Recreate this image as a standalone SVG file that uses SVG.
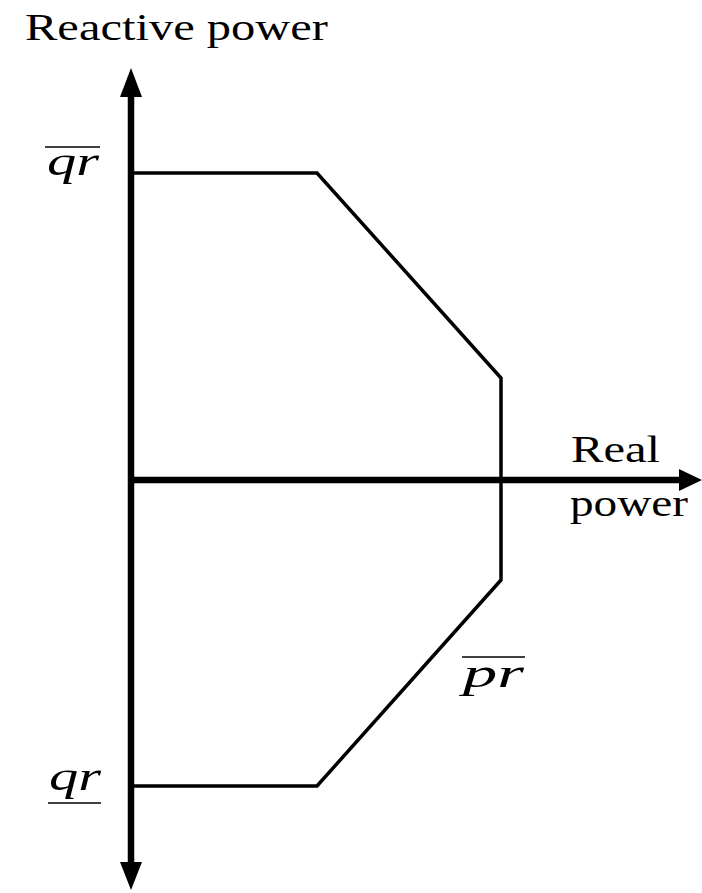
<svg xmlns="http://www.w3.org/2000/svg" width="702" height="893" viewBox="0 0 702 893">
<style>
.lbl{font-family:"Liberation Serif","DejaVu Serif",serif;font-size:37px;fill:#000}
.math{font-family:"Liberation Serif","DejaVu Serif",serif;font-size:40px;font-style:italic;fill:#000}
.axis{stroke:#000;stroke-width:6.5;fill:none}
.region{stroke:#000;stroke-width:3.5;fill:none;stroke-linejoin:miter}
.bar{stroke:#000;stroke-width:1.5}
</style>
<rect width="702" height="893" fill="#fff"/>
<g id="connectors">
<line class="axis" x1="131" y1="95" x2="131" y2="865"/>
<polygon points="131,68 120,97 142,97" fill="#000"/>
<polygon points="131,890 120,862 142,862" fill="#000"/>
<line class="axis" x1="131" y1="480" x2="682" y2="480"/>
<polygon points="702,480 679,469 679,491" fill="#000"/>
</g>
<g id="region">
<polyline class="region" points="131,173 317,173 501,378 501,580 317,786 131,786"/>
</g>
<g id="labels">
<text class="lbl" x="25" y="40" textLength="303" lengthAdjust="spacingAndGlyphs">Reactive power</text>
<text class="lbl" x="571" y="462" textLength="89" lengthAdjust="spacingAndGlyphs">Real</text>
<text class="lbl" x="570" y="516" textLength="118" lengthAdjust="spacingAndGlyphs">power</text>
<g id="qr-max"><text class="math" x="47" y="175" textLength="52" lengthAdjust="spacingAndGlyphs">qr</text><line class="bar" x1="45" y1="147" x2="100" y2="147"/></g>
<g id="qr-min"><text class="math" x="49" y="790" textLength="52" lengthAdjust="spacingAndGlyphs">qr</text><line class="bar" x1="48" y1="803" x2="101" y2="803"/></g>
<g id="pr-max"><text class="math" x="463" y="687" textLength="61" lengthAdjust="spacingAndGlyphs">pr</text><line class="bar" x1="462" y1="657" x2="525" y2="657"/></g>
</g>
</svg>
